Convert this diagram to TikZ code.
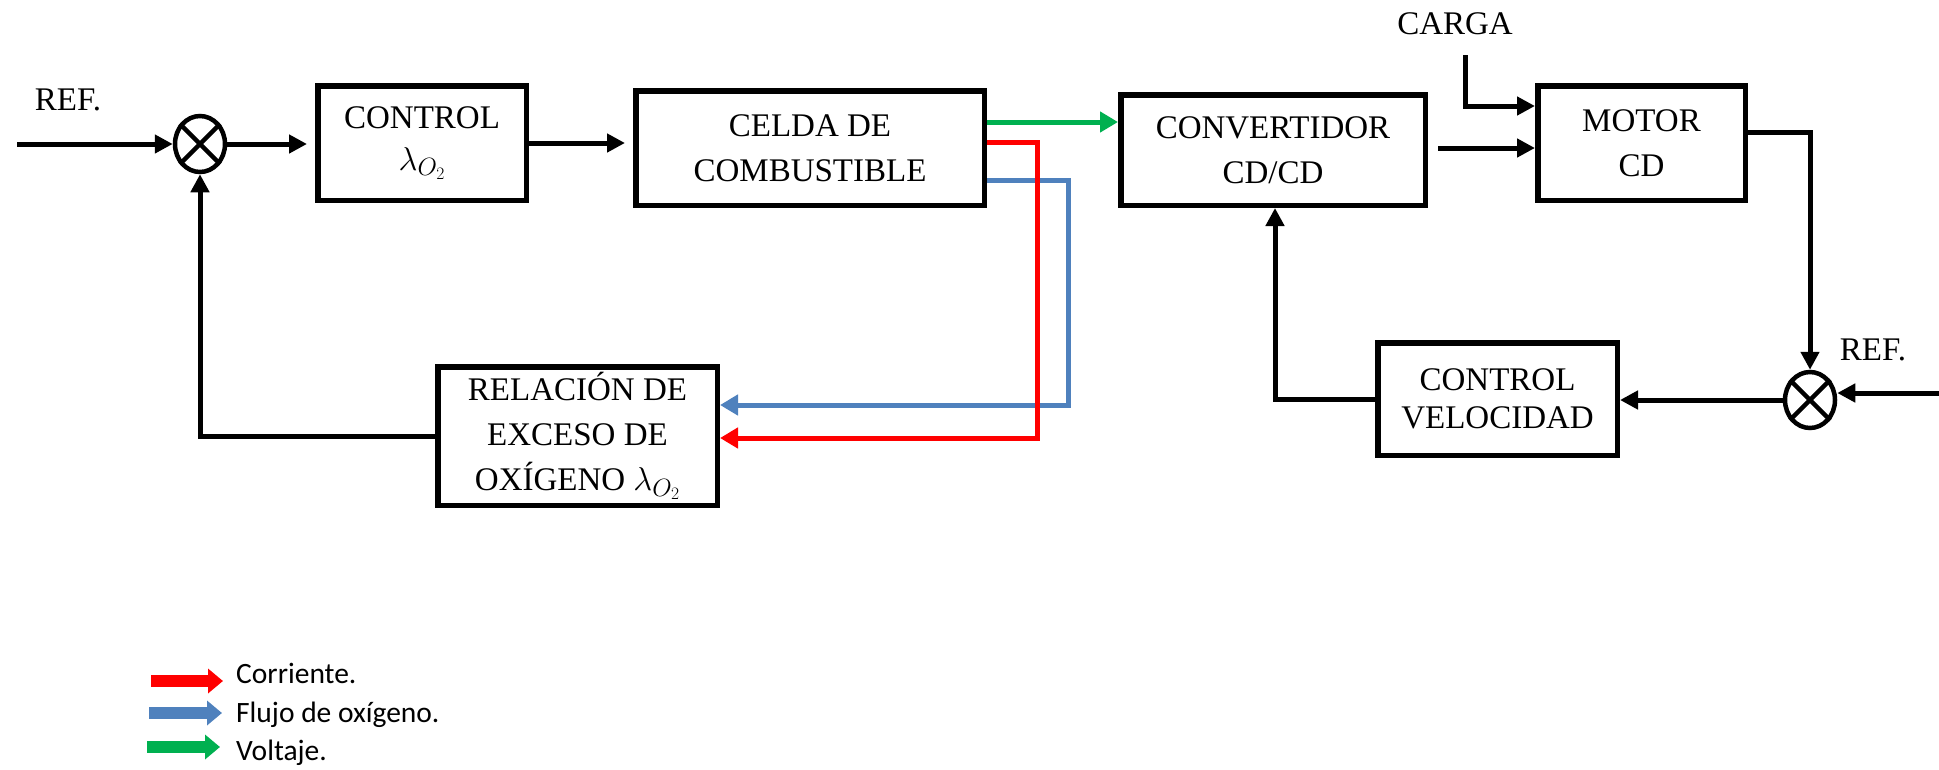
\RequirePackage{fix-cm}
\documentclass[tikz,border=0pt]{standalone}
\usepackage{fontspec}
\setmainfont{Liberation Serif}
\newfontfamily\legfont{Carlito}
\usetikzlibrary{arrows.meta,shapes.geometric,calc}
\definecolor{cred}{RGB}{255,0,0}
\definecolor{cblue}{RGB}{79,129,189}
\definecolor{cgreen}{RGB}{0,176,80}
\newcommand{\lamox}{$\lambda_{\mbox{\fontsize{25}{25}\selectfont$O_2$}}$}
\begin{document}
\begin{tikzpicture}[x=1pt,y=-1pt,
  blk/.style={draw, line width=5.5pt, inner sep=0pt, align=center, font=\fontsize{33}{45}\selectfont},
  sumnode/.style={draw, ellipse, line width=4.5pt, minimum width=50pt, minimum height=56pt, inner sep=0pt},
  wire/.style={line width=5pt},
  conn/.style={wire, -{Triangle[length=18pt,width=18pt]}},
  cconn/.style={wire, -{Triangle[length=18pt,width=20pt]}},
  lbl/.style={font=\fontsize{33}{40}\selectfont, inner sep=0pt},
  legarrow/.style={line width=12pt, -{Triangle[length=15pt,width=24pt]}},
  legtext/.style={font=\legfont\fontsize{29.5}{35}\selectfont, inner sep=0pt, anchor=base west}
]
\useasboundingbox (0,0) rectangle (1939,769);

% blocks
\node[blk, minimum width=208.5pt, minimum height=114.5pt] (ctl) at (422,143) {CONTROL\\[-3pt]\lamox};
\node[blk, minimum width=348.5pt, minimum height=114.5pt] (celda) at (810,148) {CELDA DE\\COMBUSTIBLE};
\node[blk, minimum width=304.5pt, minimum height=110.5pt] (conv) at (1273,150) {CONVERTIDOR\\CD/CD};
\node[blk, minimum width=207.5pt, minimum height=114.5pt] (motor) at (1641.5,143) {MOTOR\\CD};
\node[blk, minimum width=279.5pt, minimum height=138.5pt] (rel) at (577.5,436) {RELACIÓN DE\\EXCESO DE\\OXÍGENO \lamox};
\node[blk, minimum width=239.5pt, minimum height=112.5pt, font=\fontsize{33}{38}\selectfont] (cv) at (1497.5,399) {CONTROL\\VELOCIDAD};

% summing junctions
\node[sumnode] (lc) at (200,144) {};
\draw[line width=4.5pt] (lc.45) -- (lc.225) (lc.135) -- (lc.-45);
\node[sumnode] (rc) at (1810,400) {};
\draw[line width=4.5pt] (rc.45) -- (rc.225) (rc.135) -- (rc.-45);

% labels
\node[lbl] (refl) at (68,100) {REF.};
\node[lbl] (refr) at (1873,350) {REF.};
\node[lbl] (carga) at (1455,24) {CARGA};

% coordinates
\coordinate (lin) at (17,144);
\coordinate (rin) at (1939,393);
\coordinate (cargatop) at (1465,55);
\coordinate (cargabend) at (1465,106);
\coordinate (gy) at (1000,122);
\coordinate (bt) at (1068,180);
\coordinate (bb) at (1068,405);
\coordinate (rt) at (1037,142);
\coordinate (rb) at (1037,438);
\coordinate (cm) at (1480,148);
\coordinate (mo) at (1810,132);
\coordinate (cvb) at (1275,399);

% connectors
\draw[conn] (lin) -- (lc.west);
\draw[conn, shorten >=8pt] (lc.east) -- (ctl.west |- lc.east);
\draw[conn, shorten >=8pt] (ctl.east) -- (celda.west |- ctl.east);
\draw[cconn, cgreen] (celda.east |- gy) -- (conv.west |- gy);
\draw[cconn, cblue] (celda.east |- bt) -- (bt) -- (bb) -- (rel.east |- bb);
\draw[cconn, cred] (celda.east |- rt) -- (rt) -- (rb) -- (rel.east |- rb);
\draw[conn, shorten <=10pt] (conv.east |- cm) -- (motor.west |- cm);
\draw[conn] (cargatop) -- (cargabend) -- (motor.west |- cargabend);
\draw[conn] (motor.east |- mo) -- (mo) -- (rc.north);
\draw[conn] (rin) -- (rin -| rc.east);
\draw[conn] (rc.west) -- (cv.east |- rc.west);
\draw[conn] (cv.west) -- (cvb) -- (conv.south -| cvb);
\draw[conn] (rel.west) -| (lc.south);

% legend
\node[legtext] (t1) at (236,683) {Corriente.};
\node[legtext] (t2) at (236,722) {Flujo de oxígeno.};
\node[legtext] (t3) at (236,760) {Voltaje.};
\draw[legarrow, cred] (151,681) -- (223,681);
\draw[legarrow, cblue] (149,713) -- (222,713);
\draw[legarrow, cgreen] (147,747) -- (220,747);
\end{tikzpicture}
\end{document}
